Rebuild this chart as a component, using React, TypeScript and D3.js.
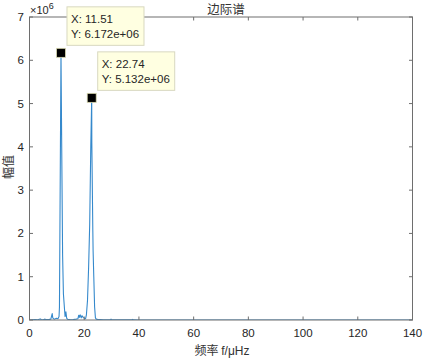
import React from "react";
import * as d3 from "d3";

const freq = [0, 1, 2, 3, 3.9, 4.3, 5, 5.7, 6.1, 7, 7.8, 8.3, 8.5, 8.8, 9.2, 9.8, 10.4, 10.8, 10.95, 11.51, 11.75, 12.1, 12.4, 12.8, 13.0, 13.3, 13.6, 14, 14.5, 15, 16, 17, 17.7, 18.0, 18.2, 18.5, 18.9, 19.2, 19.6, 20.1, 20.5, 20.8, 21.2, 21.6, 22.0, 22.4, 22.74, 22.78, 23.15, 23.25, 23.5, 23.8, 24.1, 24.4, 25, 26, 27, 28, 29.5, 29.8, 30.1, 31, 33, 35, 37.4, 37.7, 38, 40, 50, 60, 70, 80, 90, 100, 110, 120, 130, 140];
const amp = [0, 0.005, 0.01, 0.004, 0.025, 0.01, 0.006, 0.02, 0.008, 0.01, 0.02, 0.15, 0.05, 0.03, 0.02, 0.04, 0.03, 0.08, 0.3, 6.172, 4.2, 1.5, 0.6, 0.25, 0.08, 0.19, 0.04, 0.015, 0.01, 0.005, 0.01, 0.02, 0.03, 0.11, 0.06, 0.12, 0.05, 0.1, 0.06, 0.04, 0.03, 0.12, 0.45, 1.2, 2.2, 4.0, 5.132, 4.1, 2.05, 1.6, 1.0, 0.3, 0.05, 0.02, 0.01, 0.008, 0.006, 0.005, 0.004, 0.02, 0.004, 0.003, 0.002, 0.002, 0.002, 0.015, 0.002, 0.001, 0.001, 0.001, 0.001, 0.001, 0.001, 0.001, 0.001, 0.001, 0.001, 0.001].map((v) => v * 1e6);

const xTicks = [0, 20, 40, 60, 80, 100, 120, 140];
const yTicks = [0, 1, 2, 3, 4, 5, 6, 7];
const tips = [
  { x: 11.51, y: 6.172e6, xl: "X: 11.51", yl: "Y: 6.172e+06" },
  { x: 22.74, y: 5.132e6, xl: "X: 22.74", yl: "Y: 5.132e+06" },
];

const W = 423, H = 359;
const L = 29.5, R = 412.5, T = 17, B = 320;

export default function App() {
  const x = d3.scaleLinear().domain([0, 140]).range([L, R]);
  const y = d3.scaleLinear().domain([0, 7e6]).range([B, T]);
  const line = d3.line<number>().x((_, i) => x(freq[i])).y((d) => y(d));
  const font = "'Liberation Sans', Arial, sans-serif";
  const cjk = "'Noto Sans CJK SC', sans-serif";
  const axisColor = "#6e6e6e";
  const tickLen = 3.5;
  return (
    <svg width={W} height={H} style={{ position: "absolute", left: 0, top: 0, background: "#fff" }}>
      <defs>
        <clipPath id="clip"><rect x={L} y={T} width={R - L} height={B - T} /></clipPath>
      </defs>
      <rect x={0} y={0} width={W} height={H} fill="#fff" />
      <path d={line(amp) || ""} fill="none" stroke="#3589cc" strokeWidth={1.1} clipPath="url(#clip)" strokeLinejoin="round" />
      <rect x={L} y={T} width={R - L} height={B - T} fill="none" stroke={axisColor} strokeWidth={1} />
      {xTicks.map((t) => (
        <g key={"x" + t}>
          <line x1={x(t)} x2={x(t)} y1={B} y2={B - tickLen} stroke={axisColor} />
          <line x1={x(t)} x2={x(t)} y1={T} y2={T + tickLen} stroke={axisColor} />
          <text x={x(t)} y={337} textAnchor="middle" fontFamily={font} fontSize={11.5} fill="#262626">{t}</text>
        </g>
      ))}
      {yTicks.map((t) => (
        <g key={"y" + t}>
          <line x1={L} x2={L + tickLen} y1={y(t * 1e6)} y2={y(t * 1e6)} stroke={axisColor} />
          <line x1={R} x2={R - tickLen} y1={y(t * 1e6)} y2={y(t * 1e6)} stroke={axisColor} />
          <text x={24} y={y(t * 1e6) + 4} textAnchor="end" fontFamily={font} fontSize={11.5} fill="#262626">{t}</text>
        </g>
      ))}
      <text x={30} y={14} fontFamily={font} fontSize={11} fill="#262626">×10<tspan dy={-5} fontSize={9}>6</tspan></text>
      <text x={226} y={14} textAnchor="middle" fontFamily={cjk} fontSize={12.5} fill="#333">边际谱</text>
      <text x={222} y={355} textAnchor="middle" fontFamily={cjk} fontSize={12} fill="#333">频率 <tspan fontFamily={font}>f/μHz</tspan></text>
      <text transform={`translate(13,${167}) rotate(-90)`} textAnchor="middle" fontFamily={cjk} fontSize={12} fill="#333">幅值</text>
      {tips.map((d) => {
        const cx = x(d.x), cy = y(d.y);
        const bx = cx + 6, by = cy - 46;
        return (
          <g key={d.xl}>
            <rect x={bx} y={by} width={77} height={38.5} fill="#ffffe1" stroke="#d8d8c0" strokeWidth={1} />
            <text x={bx + 4} y={by + 16} fontFamily={font} fontSize={11.5} fill="#262626">{d.xl}</text>
            <text x={bx + 4} y={by + 31} fontFamily={font} fontSize={11.5} fill="#262626">{d.yl}</text>
            <rect x={cx - 4.5} y={cy - 4.5} width={9} height={9} fill="#000" stroke="#d8d8b0" strokeWidth={0.8} />
          </g>
        );
      })}
    </svg>
  );
}
